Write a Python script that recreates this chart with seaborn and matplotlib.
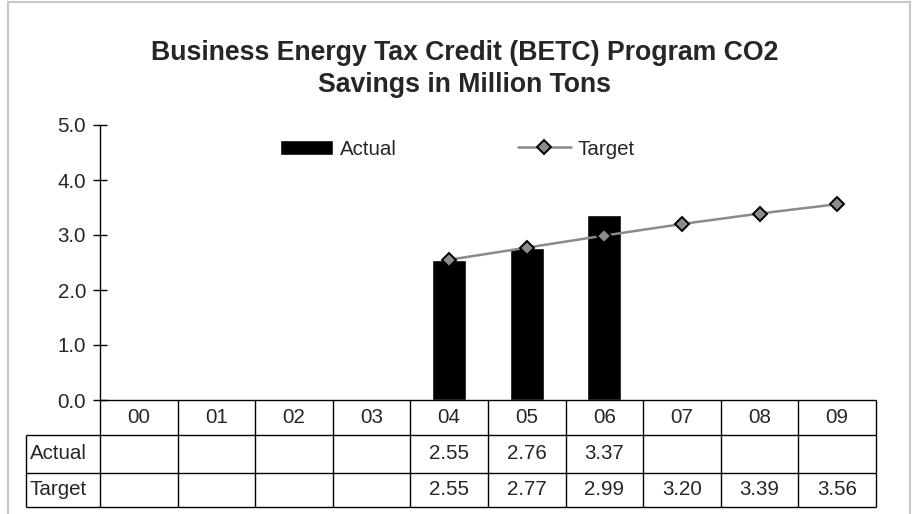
import numpy as np
import pandas as pd
import seaborn as sns
import matplotlib
matplotlib.use("Agg")
import matplotlib.pyplot as plt
from matplotlib.patches import Rectangle

# data
years = ["00", "01", "02", "03", "04", "05", "06", "07", "08", "09"]
actual = [np.nan, np.nan, np.nan, np.nan, 2.55, 2.76, 3.37, np.nan, np.nan, np.nan]
target = [np.nan, np.nan, np.nan, np.nan, 2.55, 2.77, 2.99, 3.20, 3.39, 3.56]
yticks = [0.0, 1.0, 2.0, 3.0, 4.0, 5.0]

sns.set_theme(style="white")
plt.rcParams["font.family"] = ["Liberation Sans", "DejaVu Sans"]

W, H = 913, 514
fig = plt.figure(figsize=(W / 100, H / 100), dpi=100)
ax = fig.add_axes([100 / W, (H - 400) / H, 776 / W, 275 / H])

body = 14.8

df = pd.DataFrame({"year": years, "pos": range(len(years)),
                   "actual": actual, "target": target})

sns.barplot(data=df, x="year", y="actual", order=years, color="black",
            width=0.44, errorbar=None, saturation=1, ax=ax, label="Actual")
tdf = df.dropna(subset=["target"])
sns.lineplot(data=tdf, x="pos", y="target", color="#8a8a8a", lw=1.8,
             marker="D", markersize=7.5, markerfacecolor="#8c8c8c",
             markeredgecolor="black", markeredgewidth=1.4, ax=ax,
             label="Target", zorder=5)

ax.set_xlim(-0.5, len(years) - 0.5)
ax.set_ylim(0, 5)
ax.set_yticks(yticks)
ax.set_yticklabels([f"{v:.1f}" for v in yticks], fontsize=body)
ax.set_xticks([])
ax.set_xlabel("")
ax.set_ylabel("")
ax.tick_params(axis="y", direction="inout", length=10, width=1, color="black",
               pad=5, left=True)
for s in ["top", "right", "bottom"]:
    ax.spines[s].set_visible(False)
ax.spines["left"].set_color("black")
ax.spines["left"].set_linewidth(1)

# data table below the plot
tr = ax.get_xaxis_transform()
rows = [0.0, -0.127, -0.265, -0.389]
left_x = -1.454
kw = dict(transform=tr, clip_on=False, color="black", lw=1)
ax.hlines(rows[0], -0.5, len(years) - 0.5, **kw)
for r in rows[1:]:
    ax.hlines(r, left_x, len(years) - 0.5, **kw)
ax.vlines(np.arange(len(years) + 1) - 0.5, rows[3], rows[0], **kw)
ax.vlines(left_x, rows[3], rows[1], **kw)

for i, y in enumerate(years):
    ax.text(i, (rows[0] + rows[1]) / 2, y, transform=tr, ha="center",
            va="center", fontsize=body)
for label, vals, (top, bot) in [("Actual", actual, rows[1:3]),
                                ("Target", target, rows[2:4])]:
    ym = (top + bot) / 2
    ax.text(left_x + 0.05, ym, label, transform=tr, ha="left", va="center",
            fontsize=body)
    for i, v in enumerate(vals):
        if not np.isnan(v):
            ax.text(i, ym, f"{v:.2f}", transform=tr, ha="center",
                    va="center", fontsize=body)

# legend: Actual first, then Target
ax.get_legend().remove()
handles, labels = ax.get_legend_handles_labels()
order = [labels.index("Actual"), labels.index("Target")]
fig.legend([handles[i] for i in order], [labels[i] for i in order],
           loc="center left", bbox_to_anchor=(280 / W, 1 - 149 / H), ncol=2,
           frameon=False, fontsize=body, handlelength=2.6, handletextpad=0.3,
           columnspacing=5.9, borderpad=0, borderaxespad=0)

fig.text(465 / W, 1 - 69 / H,
         "Business Energy Tax Credit (BETC) Program CO2\nSavings in Million Tons",
         ha="center", va="center", fontsize=19.2, fontweight="bold",
         linespacing=1.3)

fig.patches.append(Rectangle((8 / W, -0.02), (910 - 8) / W, 1.02 - 1.5 / H,
                             transform=fig.transFigure, fill=False,
                             edgecolor="#c8c8c8", lw=1.5))

fig.savefig("out.png", dpi=100)
